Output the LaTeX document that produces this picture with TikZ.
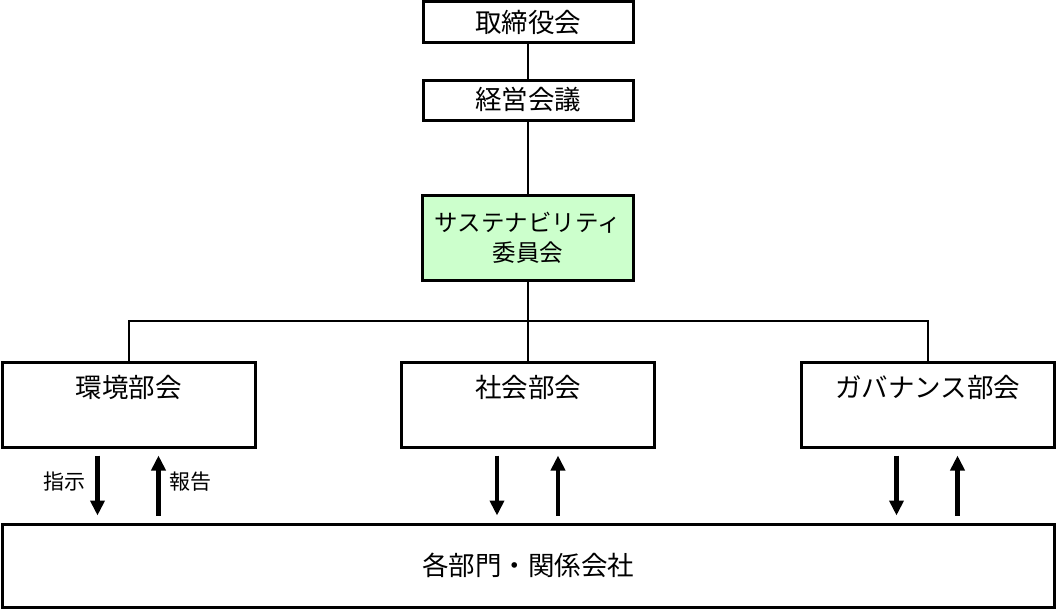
\documentclass[tikz,border=0pt]{standalone}
\usepackage{fontspec}
\setmainfont{Noto Sans CJK JP}
\usepackage{tikz}
\usetikzlibrary{arrows.meta,positioning,calc}
\definecolor{susgreen}{RGB}{204,255,204}

\begin{document}
\begin{tikzpicture}[x=1pt, y=-1pt, semithick, font=\fontsize{26.5}{31}\selectfont]
\tikzstyle{box}=[draw=black, line width=3pt, fill=white, inner sep=0pt, align=center]
\tikzstyle{link}=[draw=black, line width=2pt]
\tikzstyle{flow}=[line width=4.2pt, -{Triangle[length=15pt,width=14pt]}, shorten <=7pt, shorten >=7pt]
\tikzstyle{note}=[font=\fontsize{21}{24}\selectfont]
\useasboundingbox (0,0) rectangle (1056,610);
\node[box, minimum width=210pt, minimum height=41pt] (board) at (528,22.5)  {取締役会};
\node[box, minimum width=210pt, minimum height=40pt] (mgmt)  at (528,100)   {経営会議};
\node[box, fill=susgreen, minimum width=211pt, minimum height=85pt, font=\fontsize{23.5}{30}\selectfont] (sus) at (528,237.5) {サステナビリティ\\委員会};
\node[box, minimum width=253pt, minimum height=85pt] (env) at (128.5,404.5) {};
\node[box, minimum width=253pt, minimum height=85pt] (soc) at (528,404.5)   {};
\node[box, minimum width=253pt, minimum height=85pt] (gov) at (927.5,404.5) {};
\node[box, minimum width=1052pt, minimum height=83pt] (all) at (528,565.5)  {各部門・関係会社};
\node[below=14pt of env.north, inner sep=0pt] (envtxt) {環境部会};
\node[below=14pt of soc.north, inner sep=0pt] (soctxt) {社会部会};
\node[below=14pt of gov.north, inner sep=0pt] (govtxt) {ガバナンス部会};
\coordinate (bus) at (528,321);
\path[link]
(board) -- (mgmt)
(mgmt) -- (sus)
(sus) -- (bus)
(soc) -- (bus)
(env.north) |- (bus) -| (gov.north);
\foreach \u in {env,soc,gov} {
  \draw[flow] ([xshift=-31pt]\u.south) -- ([xshift=-31pt]\u.south |- all.north);
  \draw[flow] ([xshift=30pt]\u.south |- all.north) -- ([xshift=30pt]\u.south);
}
\node[note] (order)  at (64,482)  {指示};
\node[note] (report) at (190,482) {報告};
\end{tikzpicture}
\end{document}
